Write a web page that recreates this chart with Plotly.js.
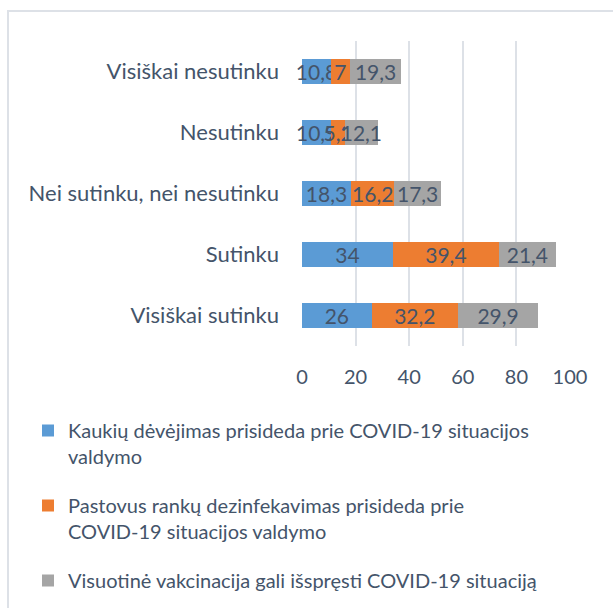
<!DOCTYPE html>
<html>
<head>
<meta charset="utf-8">
<script src="https://cdn.plot.ly/plotly-3.0.1.min.js"></script>
<style>
  html, body { margin: 0; padding: 0; background: #ffffff; overflow: hidden; }
  #frame { position: absolute; left: 7px; top: 10px; width: 640px; height: 640px; border: 2px solid #DDE1E7; box-sizing: border-box; }
  #chart { position: absolute; left: 0; top: 0; width: 613px; height: 608px; }
</style>
</head>
<body>
<div id="frame"></div>
<div id="chart"></div>
<script>
const categories = ["Visiškai nesutinku", "Nesutinku", "Nei sutinku, nei nesutinku", "Sutinku", "Visiškai sutinku"];
const seriesNames = [
  "Kaukių dėvėjimas prisideda prie COVID-19 situacijos<br>valdymo",
  "Pastovus rankų dezinfekavimas prisideda prie<br>COVID-19 situacijos valdymo",
  "Visuotinė vakcinacija gali išspręsti COVID-19 situaciją"
];
const masks = [10.8, 10.9, 18.3, 34, 26];
const hands = [7, 5.2, 16.2, 39.4, 32.2];
const vaccination = [19.3, 12.1, 17.3, 21.4, 29.9];
const xTicks = [0, 20, 40, 60, 80, 100];

const colors = ["#5B9BD5", "#ED7D31", "#A5A5A5"];
const textColor = "#44546A";
const fontFam = "Lato, 'Open Sans', sans-serif";

const seriesValues = [masks, hands, vaccination];
const traces = seriesValues.map((vals, i) => ({
  type: "bar",
  orientation: "h",
  name: seriesNames[i],
  legendgroup: "g" + i,
  y: categories,
  x: vals,
  text: vals.map(v => String(v).replace(".", ",")),
  textposition: "inside",
  insidetextanchor: "middle",
  textangle: 0,
  constraintext: "none",
  cliponaxis: false,
  textfont: { family: fontFam, size: 21, color: textColor },
  marker: { color: colors[i], line: { width: 0 } },
  hoverinfo: "x+y"
}));

const plotL = 302, plotR = 570, plotT = 41, plotB = 346;
const plotW = plotR - plotL, plotH = plotB - plotT;

const layout = {
  width: 613,
  height: 608,
  paper_bgcolor: "rgba(0,0,0,0)",
  plot_bgcolor: "rgba(0,0,0,0)",
  separators: ", ",
  barmode: "stack",
  bargap: 0.58,
  margin: { l: plotL, r: 613 - plotR, t: plotT, b: 608 - plotB, autoexpand: false },
  font: { family: fontFam, color: textColor },
  xaxis: {
    range: [0, 100],
    tickvals: xTicks,
    ticktext: xTicks.map(String),
    showgrid: true,
    gridcolor: "#DDE1E7",
    gridwidth: 2,
    zeroline: false,
    showline: false,
    ticks: "",
    ticklabelstandoff: 17,
    tickfont: { family: fontFam, size: 20, color: textColor },
    automargin: false,
    fixedrange: true
  },
  yaxis: {
    autorange: "reversed",
    showgrid: false,
    zeroline: false,
    showline: false,
    ticks: "",
    ticklabelstandoff: 22,
    tickfont: { family: fontFam, size: 22, color: textColor },
    automargin: false,
    fixedrange: true
  },
  showlegend: true,
  legend: {
    x: (28 - plotL) / plotW,
    y: (plotB - 411) / plotH,
    xanchor: "left",
    yanchor: "top",
    traceorder: "grouped",
    tracegroupgap: 20,
    valign: "top",
    font: { family: fontFam, size: 20, color: textColor },
    bgcolor: "rgba(0,0,0,0)"
  }
};

Plotly.newPlot("chart", traces, layout, { displayModeBar: false, staticPlot: true });
</script>
</body>
</html>
